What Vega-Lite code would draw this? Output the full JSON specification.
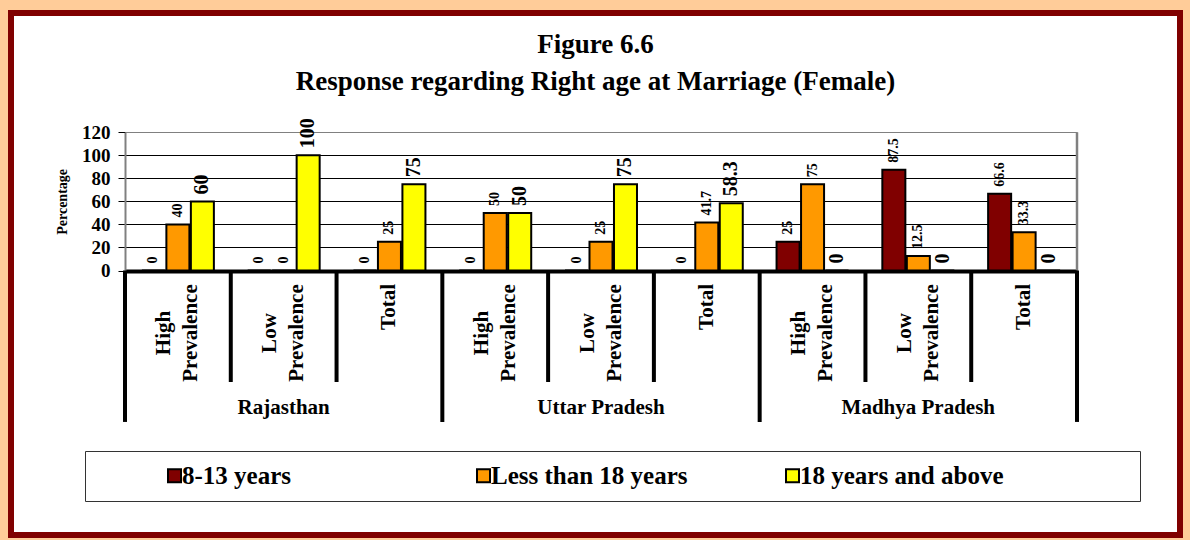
{
  "$schema": "https://vega.github.io/schema/vega-lite/v6.json",
  "width": 1169,
  "height": 522,
  "autosize": {"type": "none"},
  "padding": {"left": 11, "top": 13, "right": 10, "bottom": 5},
  "background": "#FFCC99",
  "title": {
    "text": ["Figure 6.6", "Response regarding Right age at Marriage (Female)"],
    "font": "Liberation Serif",
    "fontSize": 27,
    "fontWeight": "bold",
    "color": "black",
    "anchor": "middle",
    "frame": "group",
    "offset": -83,
    "lineHeight": 37
  },
  "data": {
    "values": [
      {"group": "Rajasthan / High Prevalence", "state": "Rajasthan", "category": "High Prevalence", "series": "8-13 years", "value": 0},
      {"group": "Rajasthan / High Prevalence", "state": "Rajasthan", "category": "High Prevalence", "series": "Less than 18 years", "value": 40},
      {"group": "Rajasthan / High Prevalence", "state": "Rajasthan", "category": "High Prevalence", "series": "18 years and above", "value": 60},
      {"group": "Rajasthan / Low Prevalence", "state": "Rajasthan", "category": "Low Prevalence", "series": "8-13 years", "value": 0},
      {"group": "Rajasthan / Low Prevalence", "state": "Rajasthan", "category": "Low Prevalence", "series": "Less than 18 years", "value": 0},
      {"group": "Rajasthan / Low Prevalence", "state": "Rajasthan", "category": "Low Prevalence", "series": "18 years and above", "value": 100},
      {"group": "Rajasthan / Total", "state": "Rajasthan", "category": "Total", "series": "8-13 years", "value": 0},
      {"group": "Rajasthan / Total", "state": "Rajasthan", "category": "Total", "series": "Less than 18 years", "value": 25},
      {"group": "Rajasthan / Total", "state": "Rajasthan", "category": "Total", "series": "18 years and above", "value": 75},
      {"group": "Uttar Pradesh / High Prevalence", "state": "Uttar Pradesh", "category": "High Prevalence", "series": "8-13 years", "value": 0},
      {"group": "Uttar Pradesh / High Prevalence", "state": "Uttar Pradesh", "category": "High Prevalence", "series": "Less than 18 years", "value": 50},
      {"group": "Uttar Pradesh / High Prevalence", "state": "Uttar Pradesh", "category": "High Prevalence", "series": "18 years and above", "value": 50},
      {"group": "Uttar Pradesh / Low Prevalence", "state": "Uttar Pradesh", "category": "Low Prevalence", "series": "8-13 years", "value": 0},
      {"group": "Uttar Pradesh / Low Prevalence", "state": "Uttar Pradesh", "category": "Low Prevalence", "series": "Less than 18 years", "value": 25},
      {"group": "Uttar Pradesh / Low Prevalence", "state": "Uttar Pradesh", "category": "Low Prevalence", "series": "18 years and above", "value": 75},
      {"group": "Uttar Pradesh / Total", "state": "Uttar Pradesh", "category": "Total", "series": "8-13 years", "value": 0},
      {"group": "Uttar Pradesh / Total", "state": "Uttar Pradesh", "category": "Total", "series": "Less than 18 years", "value": 41.7},
      {"group": "Uttar Pradesh / Total", "state": "Uttar Pradesh", "category": "Total", "series": "18 years and above", "value": 58.3},
      {"group": "Madhya Pradesh / High Prevalence", "state": "Madhya Pradesh", "category": "High Prevalence", "series": "8-13 years", "value": 25},
      {"group": "Madhya Pradesh / High Prevalence", "state": "Madhya Pradesh", "category": "High Prevalence", "series": "Less than 18 years", "value": 75},
      {"group": "Madhya Pradesh / High Prevalence", "state": "Madhya Pradesh", "category": "High Prevalence", "series": "18 years and above", "value": 0},
      {"group": "Madhya Pradesh / Low Prevalence", "state": "Madhya Pradesh", "category": "Low Prevalence", "series": "8-13 years", "value": 87.5},
      {"group": "Madhya Pradesh / Low Prevalence", "state": "Madhya Pradesh", "category": "Low Prevalence", "series": "Less than 18 years", "value": 12.5},
      {"group": "Madhya Pradesh / Low Prevalence", "state": "Madhya Pradesh", "category": "Low Prevalence", "series": "18 years and above", "value": 0},
      {"group": "Madhya Pradesh / Total", "state": "Madhya Pradesh", "category": "Total", "series": "8-13 years", "value": 66.6},
      {"group": "Madhya Pradesh / Total", "state": "Madhya Pradesh", "category": "Total", "series": "Less than 18 years", "value": 33.3},
      {"group": "Madhya Pradesh / Total", "state": "Madhya Pradesh", "category": "Total", "series": "18 years and above", "value": 0}
    ]
  },
  "config": {
    "view": {"fill": "white", "stroke": "#800000", "strokeWidth": 6},
    "font": "Liberation Serif"
  },
  "layer": [
    {
      "mark": {"type": "bar", "stroke": "black", "strokeWidth": 2},
      "encoding": {
        "x": {"field": "group", "type": "nominal", "axis": null,
          "scale": {"domain": ["Rajasthan / High Prevalence", "Rajasthan / Low Prevalence", "Rajasthan / Total", "Uttar Pradesh / High Prevalence", "Uttar Pradesh / Low Prevalence", "Uttar Pradesh / Total", "Madhya Pradesh / High Prevalence", "Madhya Pradesh / Low Prevalence", "Madhya Pradesh / Total"], "range": [114, 1066], "paddingInner": 0, "paddingOuter": 0}},
        "xOffset": {"field": "series", "type": "nominal",
          "scale": {"domain": ["8-13 years", "Less than 18 years", "18 years and above"], "paddingInner": 0.06, "paddingOuter": 0.69}},
        "y": {"field": "value", "type": "quantitative", "stack": null,
          "scale": {"domain": [0, 120], "range": [257.5, 119.3], "nice": false, "zero": false},
          "axis": {
            "orient": "left", "offset": -114, "values": [0, 20, 40, 60, 80, 100, 120],
            "labelFont": "Liberation Serif", "labelFontSize": 19, "labelFontWeight": "bold", "labelColor": "black", "labelPadding": 8,
            "tickSize": 7, "tickColor": "black", "tickWidth": 1,
            "domainColor": "#808080", "domainWidth": 2,
            "grid": true,
            "gridColor": {"condition": {"test": "datum.value === 120", "value": "#808080"}, "value": "black"},
            "gridWidth": {"condition": {"test": "datum.value === 0", "value": 4}, "value": 1},
            "title": "Percentage", "titleFont": "Liberation Serif", "titleFontSize": 14, "titleFontWeight": "bold", "titleColor": "black", "titlePadding": 12
          }},
        "color": {"field": "series", "type": "nominal",
          "scale": {"domain": ["8-13 years", "Less than 18 years", "18 years and above"], "range": ["#800000", "#FF9900", "#FFFF00"]},
          "legend": {
            "orient": "none", "legendX": 74, "legendY": 438, "direction": "horizontal", "columns": 3, "gridAlign": "all",
            "columnPadding": 20, "padding": 12, "fillColor": "white", "strokeColor": "#333333",
            "title": " ", "titleOrient": "right", "titlePadding": 125, "titleFontSize": 24,
            "symbolType": "square", "symbolSize": 169, "symbolStrokeColor": "black", "symbolStrokeWidth": 2, "symbolOffset": 65,
            "labelOffset": -5, "labelFont": "Liberation Serif", "labelFontSize": 25, "labelFontWeight": "bold", "labelColor": "black", "labelLimit": 400
          }}
      }
    },
    {
      "mark": {"type": "text", "angle": 270, "align": "left", "baseline": "middle", "dx": 7, "font": "Liberation Serif", "fontWeight": "bold", "color": "black"},
      "encoding": {
        "x": {"field": "group", "type": "nominal", "axis": null},
        "xOffset": {"field": "series", "type": "nominal"},
        "y": {"field": "value", "type": "quantitative", "stack": null},
        "text": {"field": "value", "type": "quantitative"},
        "size": {"condition": {"test": "datum.series === '18 years and above'", "value": 20}, "value": 14}
      }
    },
    {
      "transform": [{"filter": "datum.group === 'Madhya Pradesh / Total' && datum.series === '8-13 years'"}],
      "mark": {"type": "rule", "color": "#808080", "strokeWidth": 2.5},
      "encoding": {
        "x": {"field": "group", "type": "nominal", "bandPosition": 1, "axis": null},
        "y": {"datum": 0},
        "y2": {"datum": 120}
      }
    },
    {
      "transform": [{"filter": "datum.series === '8-13 years' && datum.category !== 'High Prevalence'"}],
      "mark": {"type": "rule", "color": "black", "strokeWidth": 4},
      "encoding": {
        "x": {"field": "group", "type": "nominal", "bandPosition": 0, "axis": null},
        "y": {"datum": 0},
        "y2": {"datum": -96.8}
      }
    },
    {
      "transform": [{"filter": "datum.series === '8-13 years' && datum.category === 'High Prevalence'"}],
      "mark": {"type": "rule", "color": "black", "strokeWidth": 4},
      "encoding": {
        "x": {"field": "group", "type": "nominal", "bandPosition": 0, "axis": null},
        "y": {"datum": 0},
        "y2": {"datum": -131.5}
      }
    },
    {
      "transform": [{"filter": "datum.group === 'Madhya Pradesh / Total' && datum.series === '8-13 years'"}],
      "mark": {"type": "rule", "color": "black", "strokeWidth": 4},
      "encoding": {
        "x": {"field": "group", "type": "nominal", "bandPosition": 1, "axis": null},
        "y": {"datum": 0},
        "y2": {"datum": -131.5}
      }
    },
    {
      "transform": [{"filter": "datum.series === '8-13 years' && datum.category !== 'Total'"}],
      "mark": {"type": "text", "angle": 270, "align": "center", "baseline": "middle", "dy": -13.5, "lineBreak": " ", "lineHeight": 27, "font": "Liberation Serif", "fontSize": 21, "fontWeight": "bold", "color": "black"},
      "encoding": {
        "x": {"field": "group", "type": "nominal", "axis": null},
        "y": {"datum": -54.3},
        "text": {"field": "category", "type": "nominal"}
      }
    },
    {
      "transform": [{"filter": "datum.series === '8-13 years' && datum.category === 'Total'"}],
      "mark": {"type": "text", "angle": 270, "align": "right", "baseline": "middle", "font": "Liberation Serif", "fontSize": 21, "fontWeight": "bold", "color": "black"},
      "encoding": {
        "x": {"field": "group", "type": "nominal", "axis": null},
        "y": {"datum": -11.7},
        "text": {"field": "category", "type": "nominal"}
      }
    },
    {
      "transform": [{"filter": "datum.series === '8-13 years' && datum.category === 'Low Prevalence'"}],
      "mark": {"type": "text", "align": "center", "baseline": "middle", "font": "Liberation Serif", "fontSize": 21, "fontWeight": "bold", "color": "black"},
      "encoding": {
        "x": {"field": "group", "type": "nominal", "axis": null},
        "y": {"datum": -119.4},
        "text": {"field": "state", "type": "nominal"}
      }
    }
  ]
}
